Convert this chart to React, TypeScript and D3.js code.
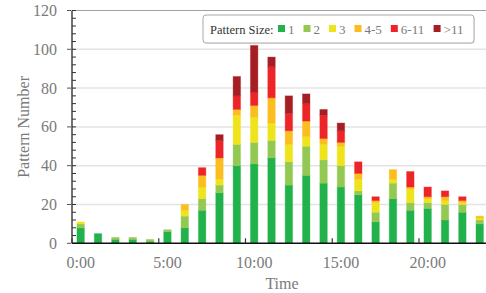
import React from "react";
import * as d3 from "d3";

const hours = [0,1,2,3,4,5,6,7,8,9,10,11,12,13,14,15,16,17,18,19,20,21,22,23];
const tickHours = [0,5,10,15,20];
const seriesKeys = ["1","2","3","4-5","6-11",">11"];
const seriesColors = ["#22b24c","#93c952","#efe41b","#fcbe1f","#ed2428","#a51e23"];
const size1 = [8,5,2,2,1,6,8,17,26,40,41,44,30,35,31,29,25,11,23,17,18,12,16,10];
const size2 = [2,0,1,1,1,1,6,6,4,11,11,9,12,15,12,11,2,5,8,4,3,8,4,2];
const size3 = [1,0,0,0,0,0,3,6,3,15,13,9,9,5,8,10,6,5,2,7,2,2,1,1];
const size45 = [0,0,0,0,0,0,3,6,11,3,6,13,7,8,3,2,3,1,5,1,1,2,1,1];
const size611 = [0,0,0,0,0,0,0,4,9,7,7,16,9,9,12,6,6,2,0,8,5,3,2,0];
const size11 = [0,0,0,0,0,0,0,0,3,10,24,5,9,5,3,4,0,0,0,0,0,0,0,0];
const yTicks = [0,20,40,60,80,100,120];
const yMinorTicks = d3.range(0, 121, 4);

const W = 486, H = 293;
const left = 72, right = 488.4, top = 10.5, bottom = 243.3;

export default function App() {
  const table = hours.map((h, i) => ({
    hour: h,
    "1": size1[i], "2": size2[i], "3": size3[i], "4-5": size45[i], "6-11": size611[i], ">11": size11[i],
  }));
  const stacked = d3.stack<any>().keys(seriesKeys)(table);
  const x = d3.scaleBand<number>().domain(hours).range([left, right]).paddingInner(0.57).paddingOuter(0.285);
  const y = d3.scaleLinear().domain([0, 120]).range([bottom, top]);
  const color = d3.scaleOrdinal<string, string>().domain(seriesKeys).range(seriesColors);
  const gray = "#7a7a7a";
  const font = "'Liberation Serif', 'DejaVu Serif', serif";

  // legend layout
  const legX = 203, legY = 15, legW = 271, legH = 28;
  const textW = (s: string) => s.split("").reduce((a, c) => a + (c === "-" ? 4.3 : c === ">" ? 7.3 : 6.5), 0);
  let cursor = 278;
  const legendItems = seriesKeys.map((k) => {
    const item = { k, x: cursor };
    cursor += 19 + textW(k);
    return item;
  });

  return (
    <svg width={W} height={H} style={{ position: "absolute", left: 0, top: 0, background: "#fff" }} fontFamily={font}>
      {yTicks.filter((t) => t > 0 && t < 120).map((t) => (
        <line key={"g" + t} x1={left} x2={W} y1={y(t)} y2={y(t)} stroke="#e4e4e4" strokeWidth={1.5} />
      ))}
      <line x1={left} x2={W} y1={y(120)} y2={y(120)} stroke="#a0a0a0" strokeWidth={1.2} />
      {stacked.map((s) => (
        <g key={s.key} fill={color(s.key)}>
          {s.map((d: any, i: number) =>
            d[1] - d[0] > 0 ? (
              <rect
                key={i}
                x={x(d.data.hour)}
                y={y(d[1])}
                width={x.bandwidth()}
                height={y(d[0]) - y(d[1])}
                stroke={color(s.key)}
                strokeOpacity={0.35}
                strokeWidth={1}
              />
            ) : null
          )}
        </g>
      ))}
      {/* y axis */}
      <line x1={left} x2={left} y1={y(120)} y2={bottom} stroke="#111" strokeWidth={1.2} />
      {yMinorTicks.map((t) => (
        <line key={"m" + t} x1={left} x2={left + 4} y1={y(t)} y2={y(t)} stroke="#333" strokeWidth={1} />
      ))}
      {yTicks.map((t) => (
        <g key={"y" + t}>
          <line x1={left - 5} x2={left - 1} y1={y(t)} y2={y(t)} stroke="#555" strokeWidth={1} />
          <text x={57} y={y(t) + 5.5} textAnchor="end" fontSize={16} fill={gray}>{t}</text>
        </g>
      ))}
      <text transform={`translate(25,${(top + bottom) / 2}) rotate(-90)`} textAnchor="middle" dominantBaseline="middle" fontSize={16} fill={gray}>Pattern Number</text>
      {/* x axis */}
      <line x1={left} x2={W} y1={bottom} y2={bottom} stroke="#111" strokeWidth={1.5} />
      {tickHours.map((h) => (
        <g key={"x" + h}>
          <line x1={x(h)! - x.step() * x.paddingInner() / 2} x2={x(h)! - x.step() * x.paddingInner() / 2} y1={bottom} y2={bottom - 5} stroke="#333" strokeWidth={1.2} />
          <text x={x(h)! + x.bandwidth() / 2} y={268} textAnchor="middle" fontSize={16} fill={gray}>{h}:00</text>
        </g>
      ))}
      <text x={282} y={289} textAnchor="middle" fontSize={16} fill={gray}>Time</text>
      {/* legend */}
      <rect x={legX + 1} y={legY + 1} width={legW} height={legH} rx={3} fill="#ddd" opacity={0.6} />
      <rect x={legX} y={legY} width={legW} height={legH} rx={3} fill="#fff" stroke="#aaa" strokeWidth={1} />
      <text x={210} y={legY + 18.5} fontSize={12.5} fill="#333">Pattern Size:</text>
      {legendItems.map((it) => (
        <g key={"l" + it.k}>
          <rect x={it.x} y={legY + 10} width={7} height={7} fill={color(it.k)} />
          <text x={it.x + 10} y={legY + 18.5} fontSize={13} fill={gray}>{it.k}</text>
        </g>
      ))}
    </svg>
  );
}
